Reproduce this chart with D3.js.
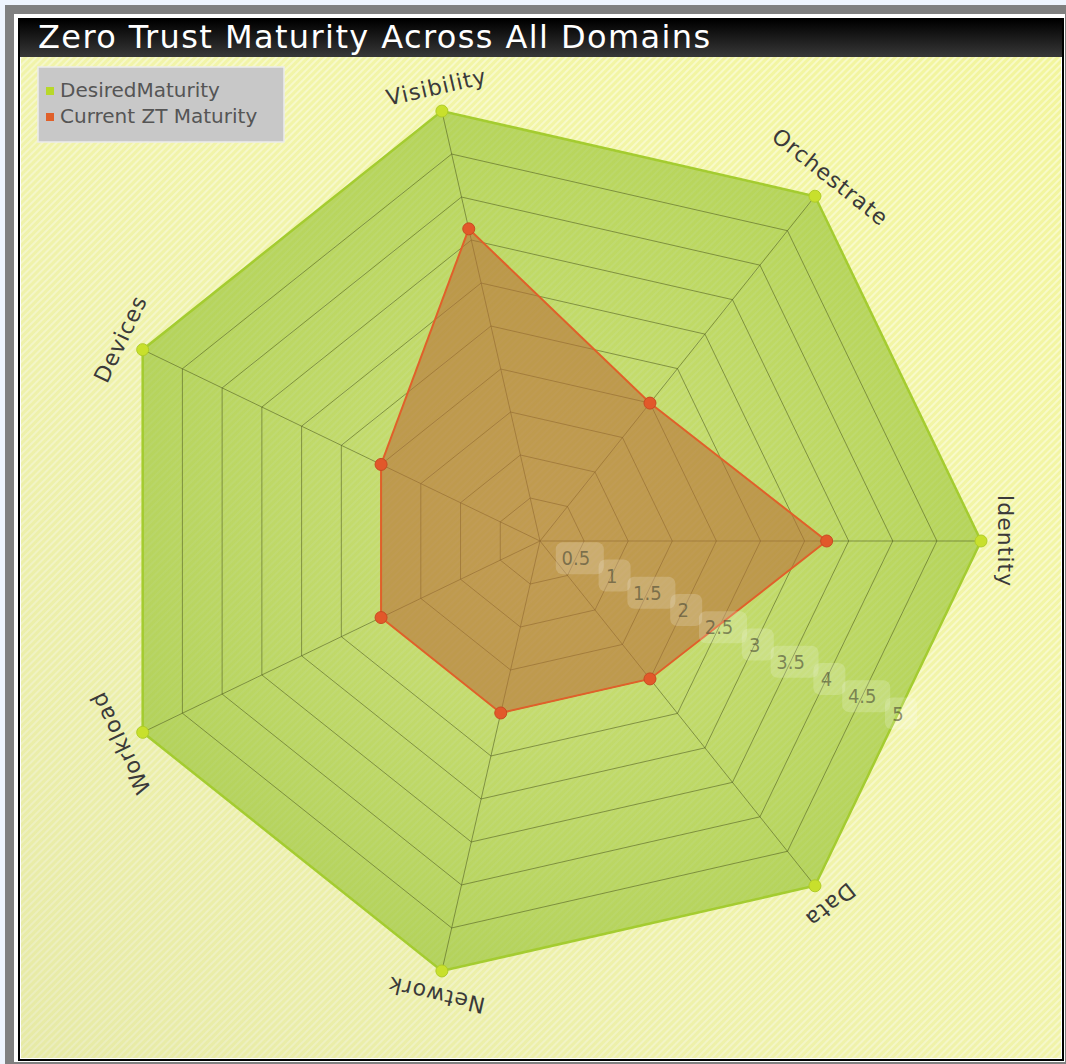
<!DOCTYPE html>
<html lang="en">
<head>
<meta charset="utf-8">
<style>
body { margin:0; background:#eef4fd; }
svg { display:block; }
</style>
<script src="https://cdn.jsdelivr.net/npm/d3@7"></script>
</head>
<body>
<div id="chart"></div>
<script>

// data
var domains = ["Identity", "Data", "Network", "Workload", "Devices", "Visibility", "Orchestrate"]
var desiredMaturity = [5, 5, 5, 5, 5, 5, 5]
var currentMaturity = [3.25, 2, 2, 2, 2, 3.63, 2]
var seriesNames = ["DesiredMaturity", "Current ZT Maturity"]
var tickValues = [0.5, 1, 1.5, 2, 2.5, 3, 3.5, 4, 4.5, 5]

var width = 1066
var height = 1064
var cx = 540, cy = 541

var svg = d3.select("#chart").append("svg")
    .attr("width", width)
    .attr("height", height)

var defs = svg.append("defs")

// striped yellow background
var pat = defs.append("pattern")
    .attr("id", "hatch")
    .attr("patternUnits", "userSpaceOnUse")
    .attr("width", 5).attr("height", 5)
    .attr("patternTransform", "rotate(45)")
pat.append("rect").attr("width", 5).attr("height", 5).attr("fill", "#f2f59c")
pat.append("rect").attr("width", 2).attr("height", 5).attr("fill", "#f8fac6")

var shade = defs.append("linearGradient").attr("id", "shade")
    .attr("x1", "100%").attr("y1", "0%").attr("x2", "0%").attr("y2", "100%")
shade.append("stop").attr("offset", "0%").attr("stop-color", "#fff").attr("stop-opacity", 0)
shade.append("stop").attr("offset", "100%").attr("stop-color", "#d8dcb0").attr("stop-opacity", 0.45)

var titleGrad = defs.append("linearGradient").attr("id", "titleGrad")
    .attr("x1", 0).attr("y1", 0).attr("x2", 0).attr("y2", 1)
titleGrad.append("stop").attr("offset", "0%").attr("stop-color", "#000")
titleGrad.append("stop").attr("offset", "100%").attr("stop-color", "#383838")

var greenGrad = defs.append("radialGradient").attr("id", "greenGrad")
    .attr("gradientUnits", "userSpaceOnUse")
    .attr("cx", cx).attr("cy", cy).attr("r", 441)
greenGrad.append("stop").attr("offset", "0%").attr("stop-color", "rgb(170,205,70)").attr("stop-opacity", 0.5)
greenGrad.append("stop").attr("offset", "100%").attr("stop-color", "rgb(150,195,50)").attr("stop-opacity", 0.66)

// frame
svg.append("rect").attr("x", 5).attr("y", 5).attr("width", 1061).attr("height", 1059).attr("fill", "#808080")
svg.append("rect").attr("x", 14).attr("y", 14).attr("width", 1051).attr("height", 1048).attr("fill", "#fff")
svg.append("rect").attr("x", 19).attr("y", 19).attr("width", 1044).attr("height", 1041)
    .attr("fill", "none").attr("stroke", "#000").attr("stroke-width", 2)
svg.append("rect").attr("x", 20).attr("y", 20).attr("width", 1042).attr("height", 37).attr("fill", "url(#titleGrad)")
svg.append("rect").attr("x", 21).attr("y", 57).attr("width", 1040).attr("height", 1001).attr("fill", "url(#hatch)")
svg.append("rect").attr("x", 21).attr("y", 57).attr("width", 1040).attr("height", 1001).attr("fill", "url(#shade)")

svg.append("text")
    .attr("x", 38).attr("y", 48)
    .attr("fill", "#fff")
    .attr("font-family", "DejaVu Sans")
    .attr("font-size", 32)
    .attr("letter-spacing", 1.4)
    .text("Zero Trust Maturity Across All Domains")

// scales
var r = d3.scaleLinear().domain([0, 5]).range([0, 441])
var angle = d3.scaleLinear().domain([0, domains.length]).range([0, 2 * Math.PI])

function pt(i, v) {
    var a = angle(i)
    return [cx + r(v) * Math.cos(a), cy + r(v) * Math.sin(a)]
}

var line = d3.line().curve(d3.curveLinearClosed)

var chart = svg.append("g")

// desired series
var desiredPath = line(desiredMaturity.map(function(v, i) { return pt(i, v) }))
chart.append("path")
    .attr("d", desiredPath)
    .attr("fill", "url(#greenGrad)")

// grid
chart.selectAll(".ring")
    .data(tickValues)
    .enter().append("path")
    .attr("class", "ring")
    .attr("d", function(t) { return line(domains.map(function(d, i) { return pt(i, t) })) })
    .attr("fill", "none")
    .attr("stroke", "rgba(75,85,30,0.55)")
    .attr("stroke-width", 1)

chart.selectAll(".spoke")
    .data(domains)
    .enter().append("line")
    .attr("class", "spoke")
    .attr("x1", cx).attr("y1", cy)
    .attr("x2", function(d, i) { return pt(i, 5)[0] })
    .attr("y2", function(d, i) { return pt(i, 5)[1] })
    .attr("stroke", "rgba(75,85,30,0.55)")
    .attr("stroke-width", 1)

chart.append("path")
    .attr("d", desiredPath)
    .attr("fill", "none")
    .attr("stroke", "#a4cc30")
    .attr("stroke-width", 2.5)

// current series
chart.append("path")
    .attr("d", line(currentMaturity.map(function(v, i) { return pt(i, v) })))
    .attr("fill", "rgba(185,110,55,0.6)")
    .attr("stroke", "#e0602a")
    .attr("stroke-width", 2)

// tick labels along the edge between first two axes
var tickAngle = (angle(0) + angle(1)) / 2
var half = Math.cos(Math.PI / domains.length)
var ticks = chart.selectAll(".tick")
    .data(tickValues)
    .enter().append("g")
    .attr("class", "tick")
    .attr("transform", function(t) {
        var rr = r(t) * half
        return "translate(" + (cx + rr * Math.cos(tickAngle)) + "," + (cy + rr * Math.sin(tickAngle)) + ")"
    })
ticks.append("rect")
    .attr("x", function(t) { return String(t).length > 1 ? -20 : -13 })
    .attr("y", -16)
    .attr("width", function(t) { return String(t).length > 1 ? 48 : 32 })
    .attr("height", 32)
    .attr("rx", 7)
    .attr("fill", "rgba(255,255,255,0.18)")
ticks.append("text")
    .attr("text-anchor", "middle")
    .attr("dy", "0.36em")
    .attr("font-family", "Liberation Sans Narrow, DejaVu Sans Condensed, DejaVu Sans")
    .attr("font-size", 20)
    .attr("fill", "rgba(70,70,50,0.6)")
    .text(function(t) { return t })

// dots
chart.selectAll(".dDot")
    .data(desiredMaturity)
    .enter().append("circle")
    .attr("cx", function(v, i) { return pt(i, v)[0] })
    .attr("cy", function(v, i) { return pt(i, v)[1] })
    .attr("r", 6)
    .attr("fill", "#c8e02c")
    .attr("stroke", "#b0cc28")

chart.selectAll(".cDot")
    .data(currentMaturity)
    .enter().append("circle")
    .attr("cx", function(v, i) { return pt(i, v)[0] })
    .attr("cy", function(v, i) { return pt(i, v)[1] })
    .attr("r", 6)
    .attr("fill", "#e2582a")
    .attr("stroke", "#c84a22")

// axis labels, rotated along the circle
chart.selectAll(".axisLabel")
    .data(domains)
    .enter().append("text")
    .attr("class", "axisLabel")
    .attr("transform", function(d, i) {
        var p = pt(i, 5.28)
        var deg = angle(i) * 180 / Math.PI + 90
        return "translate(" + p[0] + "," + p[1] + ") rotate(" + deg + ")"
    })
    .attr("text-anchor", "middle")
    .attr("dy", "0.35em")
    .attr("font-family", "DejaVu Sans")
    .attr("font-size", 22)
    .attr("letter-spacing", 1)
    .attr("fill", "#3a3a3a")
    .text(function(d) { return d })

// legend
var legend = svg.append("g").attr("transform", "translate(38,67)")
legend.append("rect")
    .attr("width", 246).attr("height", 75)
    .attr("fill", "#c8c8c8")
    .attr("stroke", "#ececec")
    .attr("stroke-width", 1.5)
var legColors = ["#b8d82a", "#e0602a"]
var items = legend.selectAll(".item")
    .data(seriesNames)
    .enter().append("g")
    .attr("transform", function(d, i) { return "translate(8," + (20 + i * 26) + ")" })
items.append("rect")
    .attr("width", 8).attr("height", 8)
    .attr("fill", function(d, i) { return legColors[i] })
items.append("text")
    .attr("x", 14).attr("y", 10)
    .attr("font-family", "DejaVu Sans")
    .attr("font-size", 20)
    .attr("fill", "#555")
    .text(function(d) { return d })

</script>
</body>
</html>
